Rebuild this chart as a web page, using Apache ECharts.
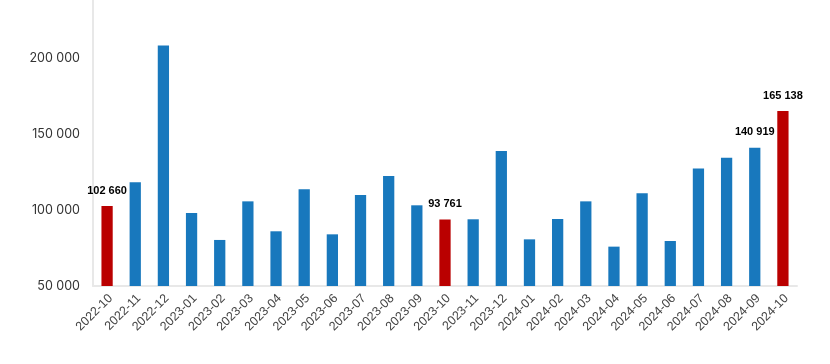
<!DOCTYPE html>
<html><head><meta charset="utf-8">
<script src="https://cdn.jsdelivr.net/npm/echarts@6/dist/echarts.min.js"></script>
<style>html,body{margin:0;padding:0;background:#fff}#c{width:830px;height:364px}</style>
</head><body><div id="c"></div>
<script>
const categories = ["2022-10","2022-11","2022-12","2023-01","2023-02","2023-03","2023-04","2023-05","2023-06","2023-07","2023-08","2023-09","2023-10","2023-11","2023-12","2024-01","2024-02","2024-03","2024-04","2024-05","2024-06","2024-07","2024-08","2024-09","2024-10"];
const values = [102660,118200,208200,98000,80300,105700,86000,113600,84000,109900,122400,103100,93761,93900,138800,80700,94100,105700,75900,111000,79600,127400,134400,140919,165138];
const highlighted = ["2022-10","2023-10","2024-10"];
const labelled = ["2022-10","2023-10","2024-09","2024-10"];
const yTicks = [50000,100000,150000,200000];

const fmt = v => String(v).replace(/\B(?=(\d{3})+(?!\d))/g, " ");
const chart = echarts.init(document.getElementById('c'), null, {renderer:'canvas'});
chart.setOption({
  animation:false,
  grid:{left:93,right:33,top:0,bottom:78},
  xAxis:{type:'category',data:categories,
    axisLine:{lineStyle:{color:'#e8e8e8',width:2}},axisTick:{show:false},
    axisLabel:{rotate:45,interval:0,color:'#444',fontSize:12.5,fontFamily:'Liberation Sans',margin:14,padding:[0,-5,0,0]}},
  yAxis:{type:'value',min:yTicks[0],max:238200,interval:50000,
    axisLine:{show:true,lineStyle:{color:'#e8e8e8',width:2}},splitLine:{show:false},
    axisLabel:{color:'#333',fontSize:12.5,fontFamily:'Inter',margin:13,showMaxLabel:false,formatter:fmt}},
  series:[{type:'bar',barWidth:'40%',
    data:values.map((v,i)=>({value:v,
      itemStyle:{color:highlighted.includes(categories[i])?'#BA0000':'#1878BD'},
      label:{show:labelled.includes(categories[i])}})),
    label:{position:'top',distance:10,color:'#000',fontWeight:'bold',fontSize:11,fontFamily:'Liberation Sans',formatter:p=>fmt(p.value)}
  }]
});
</script></body></html>
